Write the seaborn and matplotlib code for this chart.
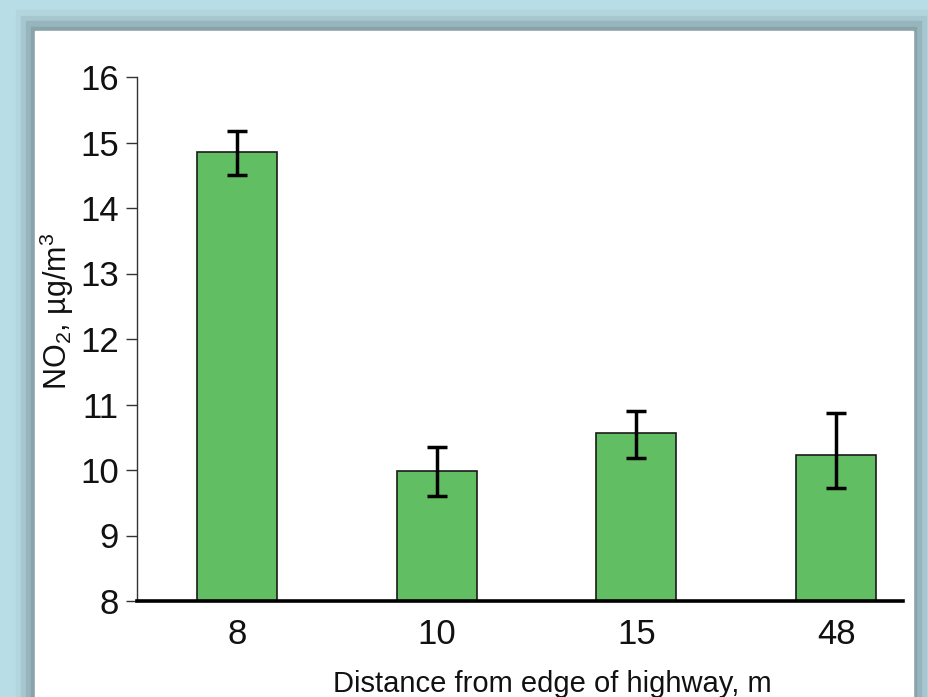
import numpy as np
import pandas as pd
import matplotlib
matplotlib.use('Agg')
import matplotlib.pyplot as plt
import seaborn as sns
from matplotlib import font_manager
from matplotlib.patches import Rectangle

# chart data
distances = ['8', '10', '15', '48']
no2_means = [14.85, 9.98, 10.56, 10.23]
err_low = [0.34, 0.37, 0.38, 0.50]
err_high = [0.33, 0.37, 0.34, 0.64]

sns.set_style('ticks')

# narrow Arial-like font if we have it
names = {f.name for f in font_manager.fontManager.ttflist}
if 'Liberation Sans Narrow' in names:
    family = 'Liberation Sans Narrow'
    tick_size, xlabel_size, ylabel_size = 27, 22, 24
else:
    family = 'Liberation Sans'
    tick_size, xlabel_size, ylabel_size = 25, 21, 22
plt.rcParams['font.family'] = [family, 'DejaVu Sans']
plt.rcParams['mathtext.fontset'] = 'custom'
plt.rcParams['mathtext.rm'] = family
plt.rcParams['mathtext.it'] = family
plt.rcParams['mathtext.bf'] = family
plt.rcParams['mathtext.default'] = 'regular'

W, H = 929, 697
fig = plt.figure(figsize=(W / 100, H / 100), dpi=100)
fig.patch.set_facecolor('#b8dde6')


def panel(x0, y0, x1, y1, color):
    # rectangle given in pixel coords from the top left corner
    fig.patches.append(Rectangle((x0 / W, 1 - y1 / H), (x1 - x0) / W, (y1 - y0) / H,
                                 transform=fig.transFigure, color=color, zorder=-10))


# slide background: light blue frame with a soft shadow round the white panel
panel(16, 10, 929, 697, '#b2d5de')
panel(21, 16, 926, 697, '#a6c7cf')
panel(26, 21, 921, 697, '#97b5bc')
panel(31, 27, 916, 697, '#88a3aa')
panel(35, 31, 913, 697, 'white')

ax = fig.add_axes([137 / W, 96 / H, (903 - 137) / W, (601 - 77) / H])
ax.set_zorder(5)
ax.set_facecolor('white')

df = pd.DataFrame({'distance': distances, 'no2': no2_means})
sns.barplot(data=df, x='distance', y='no2', color='#62be62', saturation=1,
            width=0.4, edgecolor='#1a1a1a', linewidth=1.2, errorbar=None, ax=ax)
ax.errorbar(x=np.arange(len(distances)), y=no2_means, yerr=[err_low, err_high],
            fmt='none', ecolor='black', elinewidth=2.5, capsize=7.5, capthick=2.5, zorder=5)

ax.set_xlim(-0.5, 3.335)
ax.set_ylim(8, 16)
ax.set_yticks(range(8, 17))

sns.despine(ax=ax)
ax.spines['left'].set_linewidth(1.0)
ax.spines['left'].set_color('#333333')
ax.spines['bottom'].set_linewidth(2.6)
ax.spines['bottom'].set_color('black')
ax.tick_params(axis='x', length=0, labelsize=tick_size, pad=12, colors='#111111')
ax.tick_params(axis='y', length=8, width=1, direction='out', labelsize=tick_size, pad=5,
               colors='#333333', labelcolor='#111111')

ax.set_xlabel('Distance from edge of highway, m', fontsize=xlabel_size, color='#111111', va='center')
ax.xaxis.set_label_coords((552 - 137) / 766, -83 / 524)
ax.set_ylabel('NO$_2$, µg/m$^3$', fontsize=ylabel_size, color='#111111', va='center')
ax.yaxis.set_label_coords((57 - 137) / 766, (601 - 311) / 524)

plt.savefig('out.png', dpi=100, facecolor=fig.get_facecolor())
print('figure is in out.png')
